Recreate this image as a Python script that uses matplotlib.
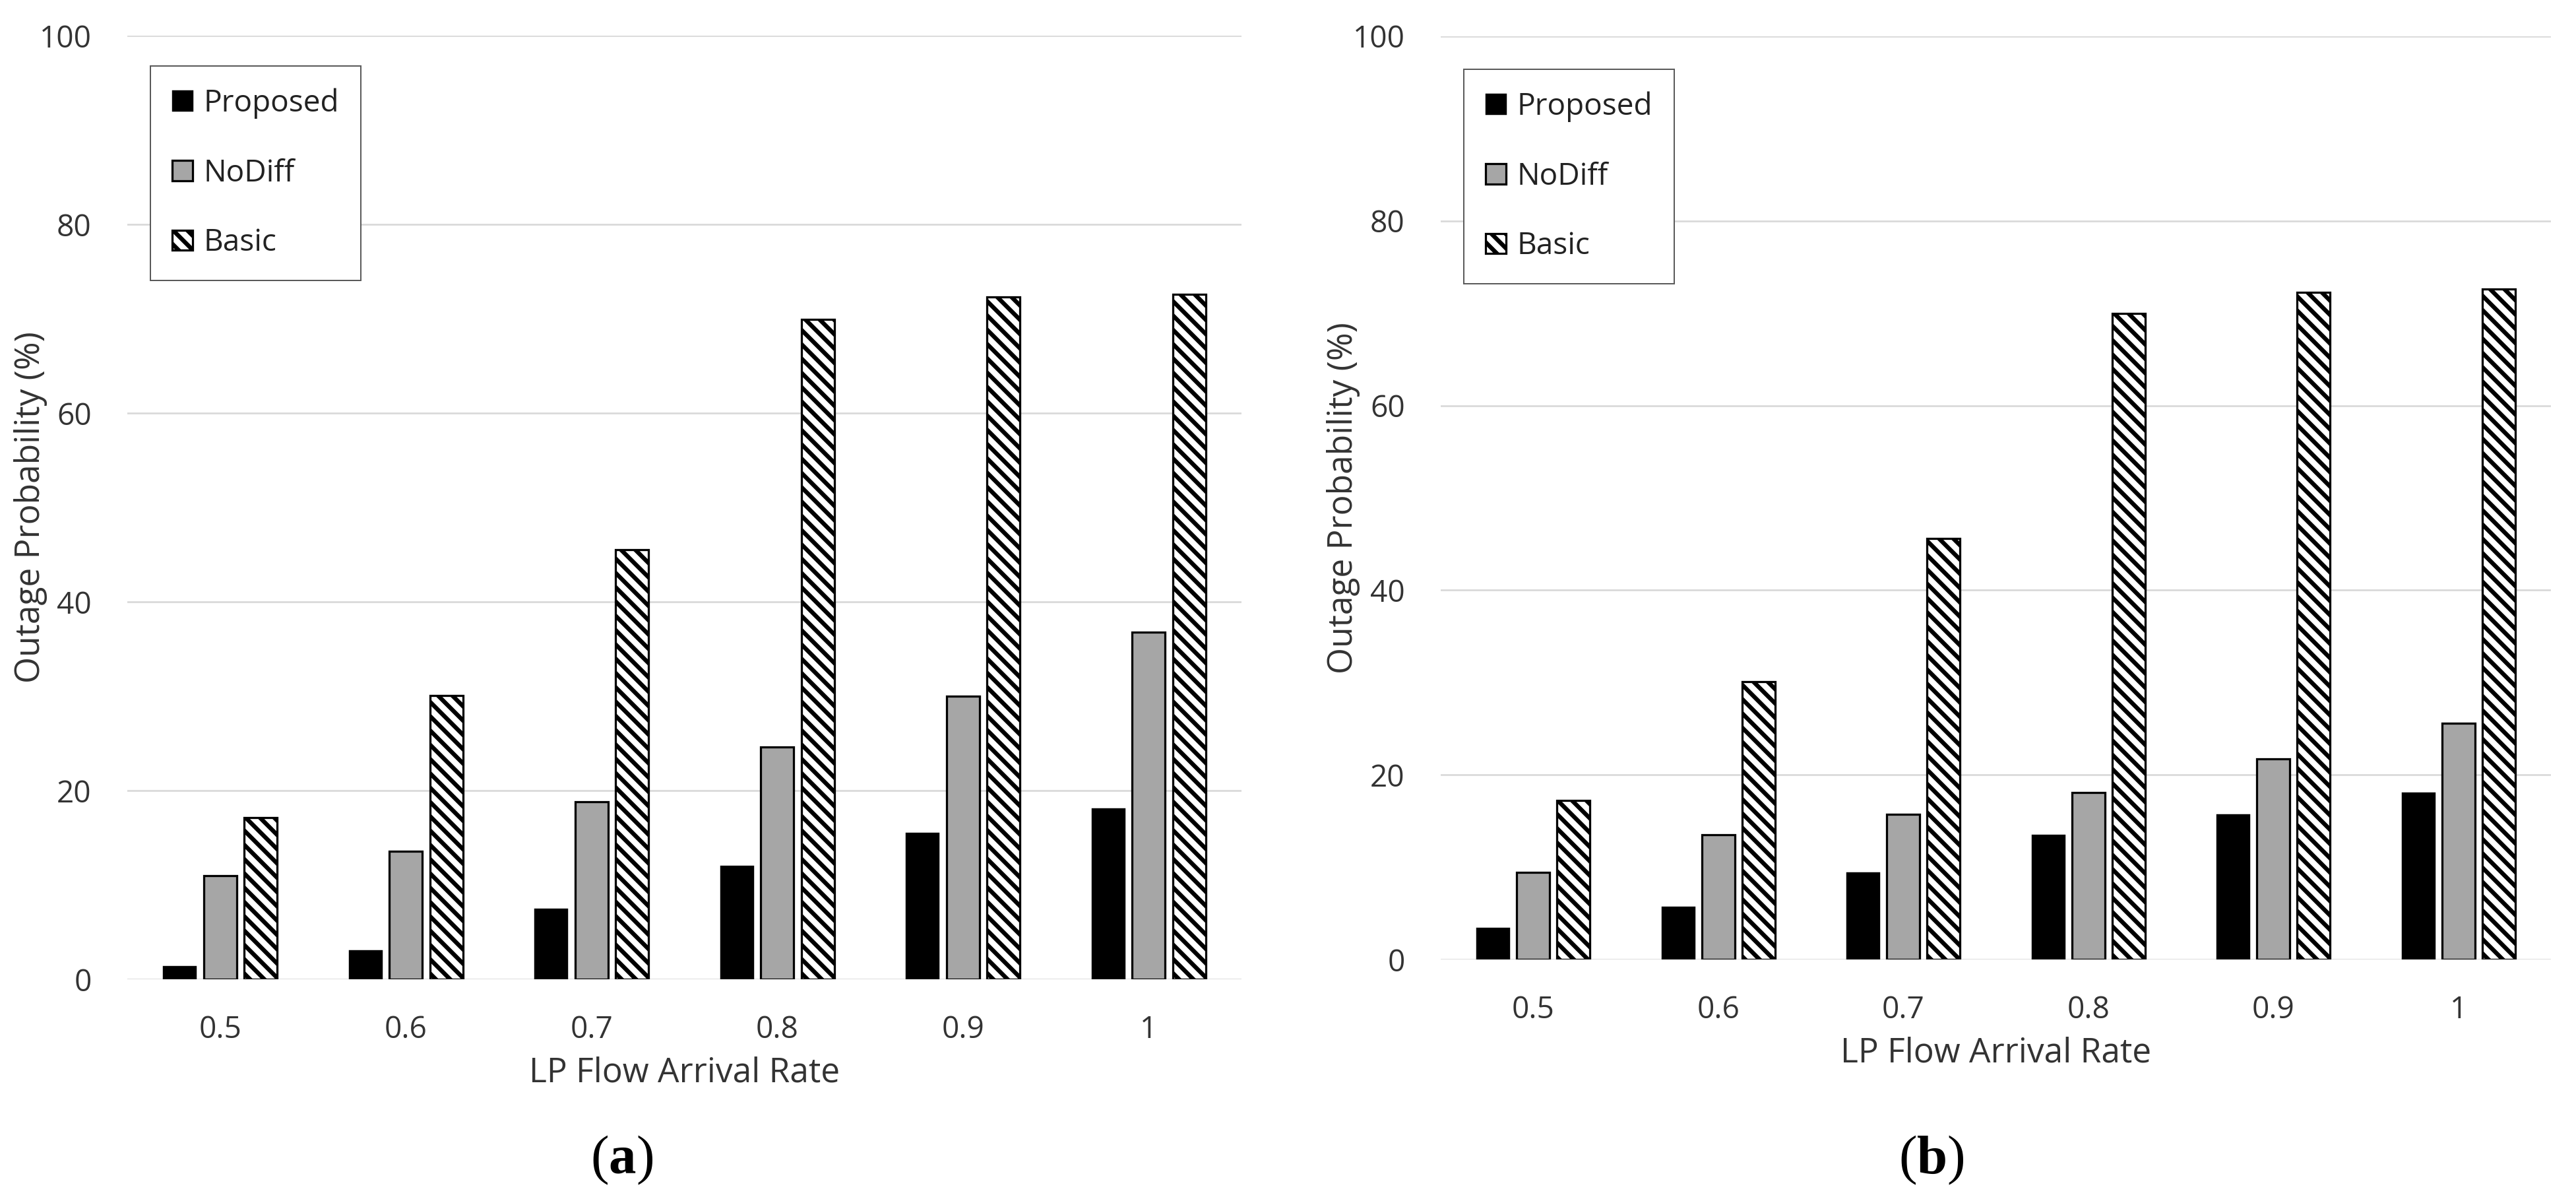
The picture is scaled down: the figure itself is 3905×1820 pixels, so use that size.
import numpy as np
import matplotlib
matplotlib.use("Agg")
import matplotlib.pyplot as plt

plt.rcParams['font.family'] = ['Open Sans', 'DejaVu Sans']
plt.rcParams['hatch.linewidth'] = 3.6
plt.rcParams['mathtext.fontset'] = 'custom'
plt.rcParams['mathtext.rm'] = 'Liberation Serif'
plt.rcParams['mathtext.bf'] = 'Liberation Serif:bold'

rates = ['0.5', '0.6', '0.7', '0.8', '0.9', '1']
series = ['Proposed', 'NoDiff', 'Basic']

# (a)
proposed_a = [1.4, 3.1, 7.5, 12.0, 15.5, 18.1]
nodiff_a = [11.0, 13.6, 18.8, 24.6, 30.0, 36.8]
basic_a = [17.1, 30.1, 45.5, 69.9, 72.3, 72.6]

# (b)
proposed_b = [3.4, 5.7, 9.4, 13.5, 15.7, 18.1]
nodiff_b = [9.4, 13.5, 15.7, 18.1, 21.7, 25.6]
basic_b = [17.2, 30.1, 45.6, 70.0, 72.3, 72.6]

txt = '#333333'
W, H = 3905, 1820
dpi = 130
fig = plt.figure(figsize=(W / dpi, H / dpi), dpi=dpi)


def draw(rect, data, legend_xy, ylab_x, xlab_y, tag, tag_x):
    ax = fig.add_axes(rect)
    x = np.arange(len(rates))
    w = 0.178
    off = 0.218
    ax.bar(x - off, data[0], w, color='black', edgecolor='black', linewidth=0.8,
           label=series[0], zorder=3)
    ax.bar(x, data[1], w, color='#a6a6a6', edgecolor='black', linewidth=1.8,
           label=series[1], zorder=3)
    ax.bar(x + off, data[2], w, color='white', edgecolor='black', linewidth=1.8,
           hatch='\\\\', label=series[2], zorder=3)
    ax.set_xlim(-0.5, len(rates) - 0.5)
    ax.set_ylim(0, 100)
    ax.set_yticks(range(0, 101, 20))
    ax.set_xticks(x)
    ax.set_xticklabels(rates)
    ax.tick_params(length=0, labelsize=25.5, colors=txt)
    ax.tick_params(axis='y', pad=30)
    ax.tick_params(axis='x', pad=30)
    ax.grid(axis='y', color='#d9d9d9', linewidth=1.5, zorder=0)
    ax.set_axisbelow(True)
    for s in ax.spines.values():
        s.set_visible(False)
    cx = rect[0] + rect[2] / 2
    fig.text(cx, xlab_y, 'LP Flow Arrival Rate', ha='center', va='baseline',
             fontsize=28.5, color=txt)
    fig.text(ylab_x, rect[1] + rect[3] / 2, 'Outage Probability (%)', rotation=90,
             ha='center', va='center', fontsize=28.5, color=txt)
    leg = ax.legend(loc='upper left', bbox_to_anchor=legend_xy,
                    bbox_transform=fig.transFigure, borderaxespad=0,
                    fontsize=25.5, frameon=True, fancybox=False,
                    edgecolor='#595959', framealpha=1, labelspacing=1.3,
                    handlelength=0.68, handleheight=0.64, handletextpad=0.35,
                    borderpad=0.72)
    leg.get_frame().set_linewidth(1.1)
    for t in leg.get_texts():
        t.set_color('#222222')
    fig.text(tag_x, 1 - 1757 / H, r'$(\mathbf{' + tag + '})$', ha='center',
             va='center', fontsize=46)
    return ax


draw([193 / W, 1 - 1484 / H, (1882 - 193) / W, (1484 - 54) / H],
     [proposed_a, nodiff_a, basic_a], (228 / W, 1 - 100 / H),
     47 / W, 1 - 1640 / H, 'a', 943 / W)
draw([2184 / W, 1 - 1454 / H, (3867 - 2184) / W, (1454 - 55) / H],
     [proposed_b, nodiff_b, basic_b], (2219 / W, 1 - 105 / H),
     2036 / W, 1 - 1610 / H, 'b', 2928 / W)

fig.savefig('out.png', dpi=dpi, facecolor='white')
